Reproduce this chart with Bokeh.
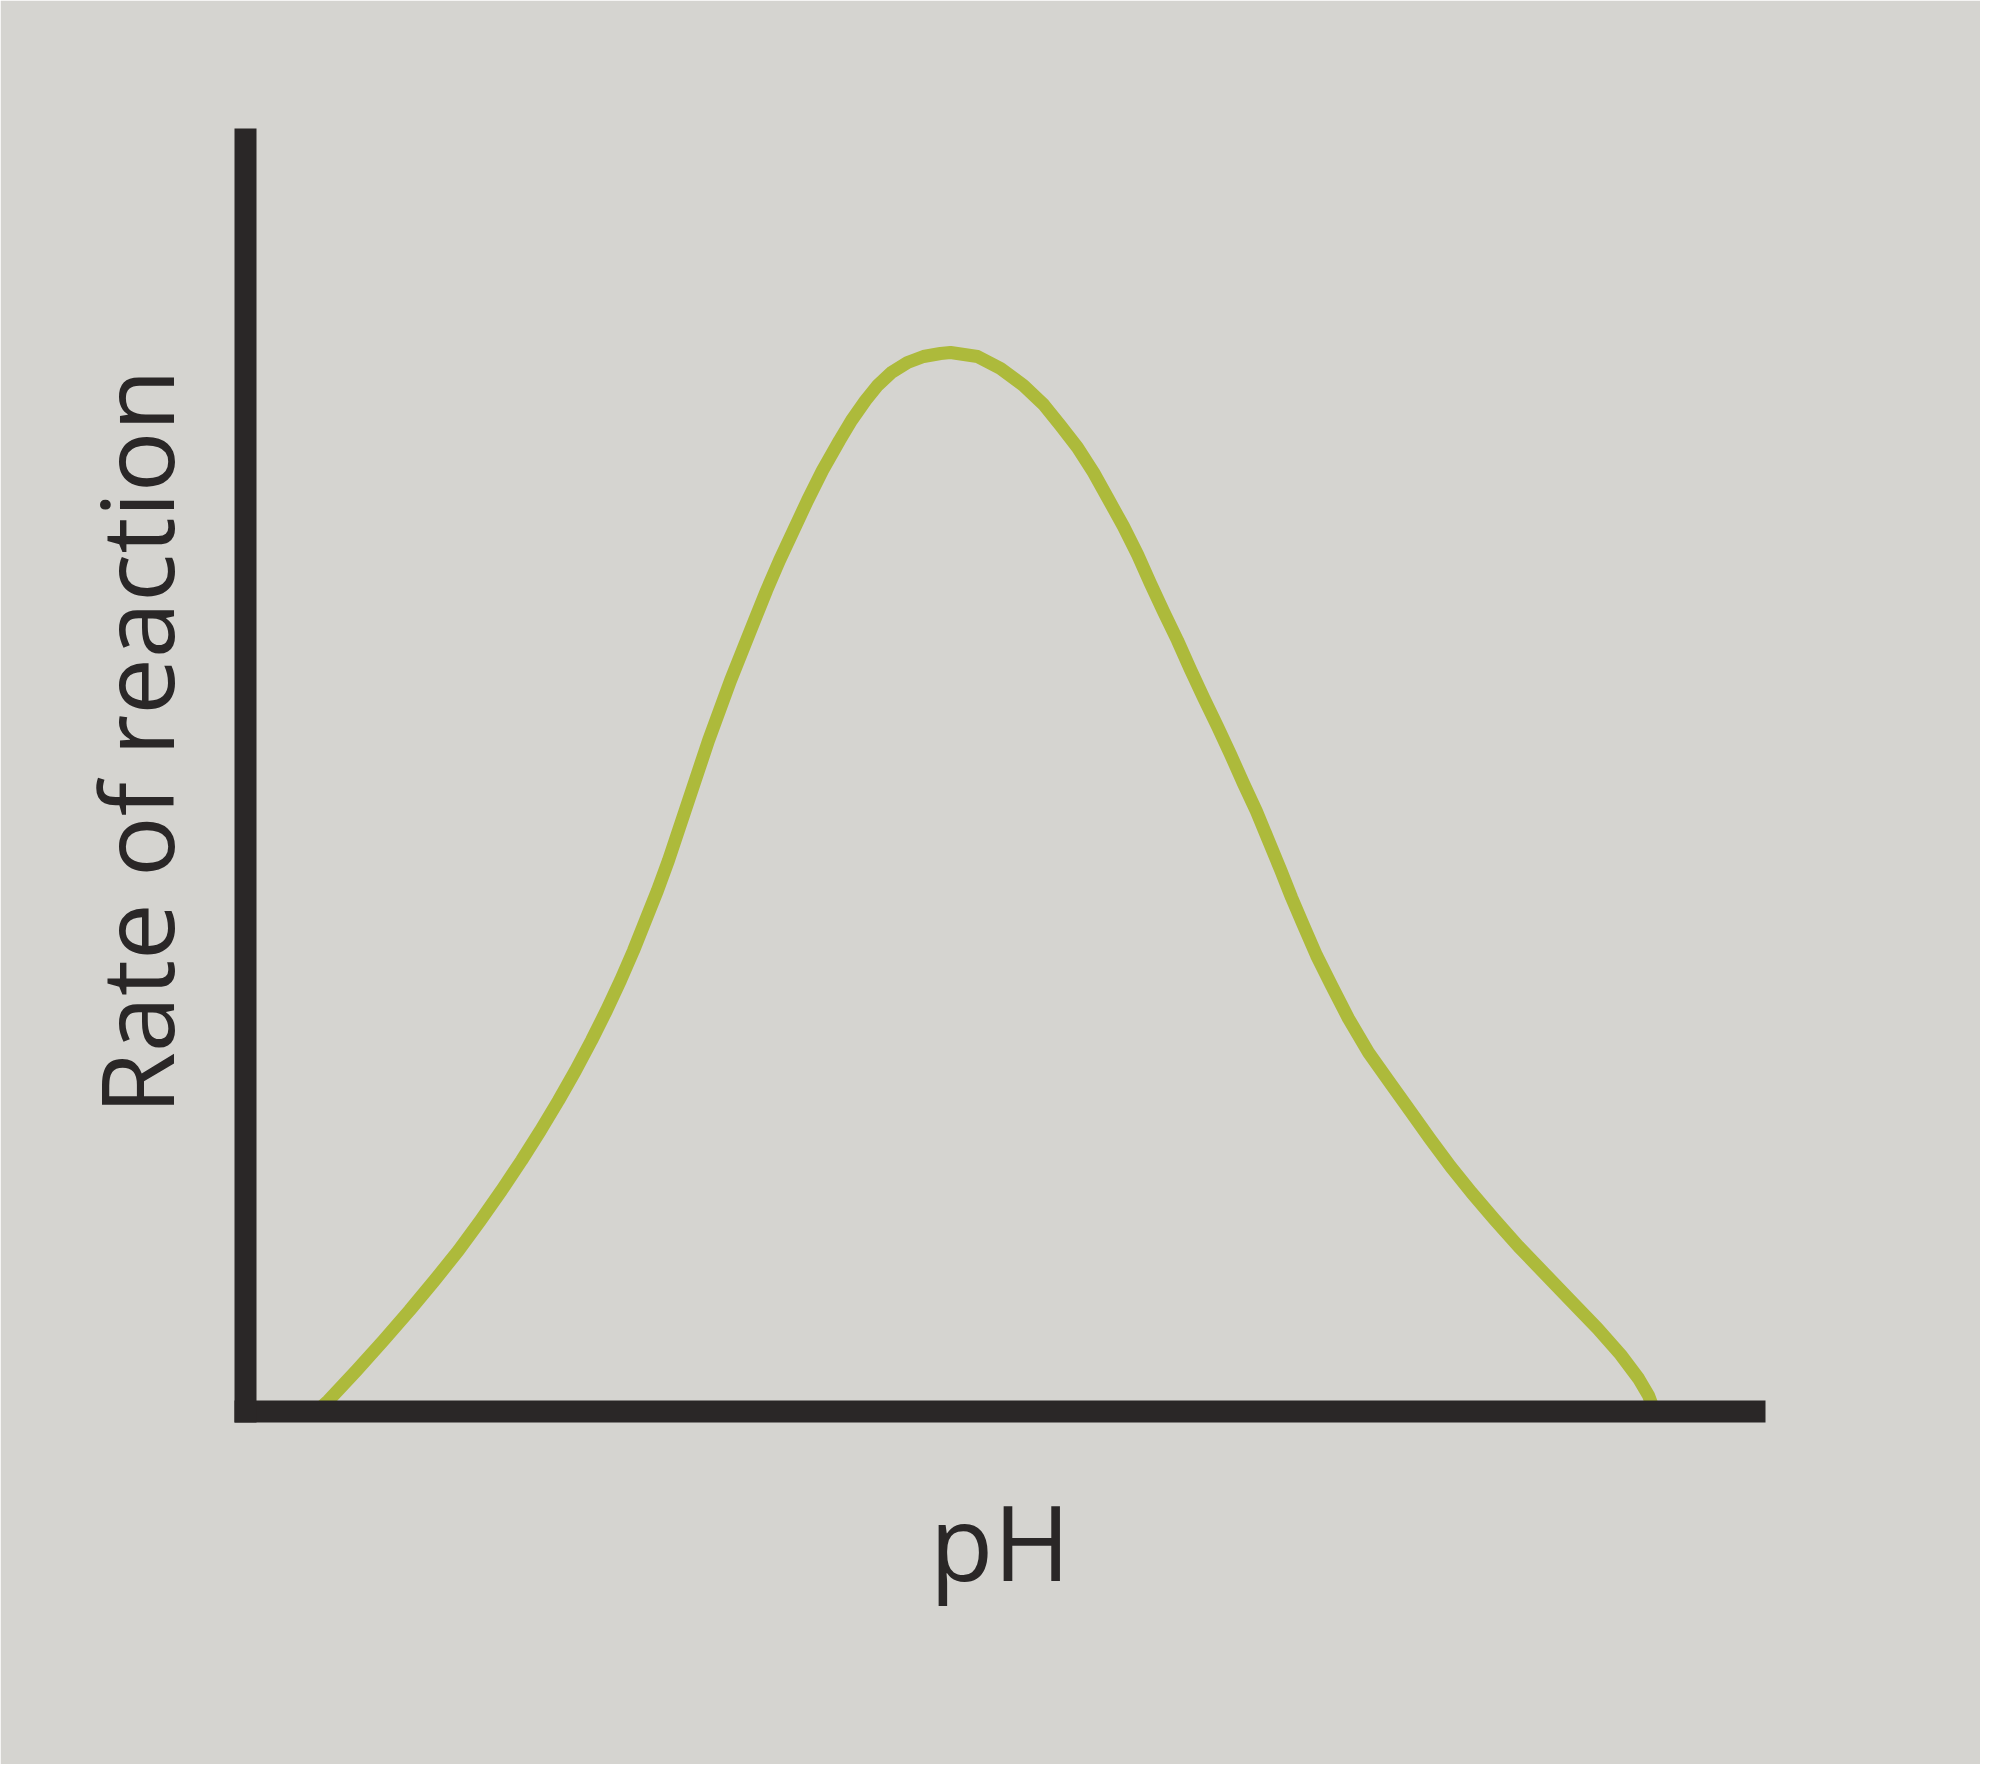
from bokeh.plotting import figure
from bokeh.models import Range1d, FixedTicker, Title
from bokeh.embed import file_html
from bokeh.resources import INLINE

# Data (arbitrary units: pH along x, rate of reaction along y)
ph = [0.659, 0.770, 1.030, 1.280, 1.522, 1.753, 1.976, 2.180, 2.375, 2.561,
      2.737, 2.904, 3.062, 3.210, 3.349, 3.479, 3.600, 3.711, 3.822, 3.924,
      4.017, 4.110, 4.203, 4.296, 4.398, 4.500, 4.611, 4.722, 4.834, 4.954,
      5.084, 5.214, 5.353, 5.511, 5.622, 5.752, 5.864, 5.993, 6.142, 6.290,
      6.448, 6.541,
      6.791, 7.005, 7.218, 7.404, 7.561, 7.719, 7.868, 7.997, 8.146, 8.276,
      8.396, 8.517, 8.647, 8.767, 8.888, 9.018, 9.139, 9.259, 9.380, 9.491,
      9.602, 9.705, 9.816, 9.937, 10.076, 10.233, 10.419, 10.623, 10.809,
      10.994, 11.180, 11.374, 11.588, 11.811, 12.052, 12.293, 12.544, 12.757,
      12.924, 13.017, 13.072]
rate = [0.0, 0.865, 3.223, 5.582, 7.940, 10.299, 12.657, 15.016, 17.374, 19.733,
        22.091, 24.450, 26.808, 29.167, 31.525, 33.884, 36.242, 38.601, 40.959, 43.318,
        45.676, 48.035, 50.393, 52.752, 55.110, 57.469, 59.827, 62.186, 64.544, 66.903,
        69.261, 71.619, 73.978, 76.336, 77.909, 79.481, 80.660, 81.682, 82.469, 82.940,
        83.176, 83.255,
        82.940, 81.997, 80.660, 79.167, 77.515, 75.786, 73.820, 71.855, 69.575, 67.374,
        65.094, 62.893, 60.613, 58.333, 56.132, 53.852, 51.651, 49.371, 47.170, 44.890,
        42.610, 40.409, 38.208, 35.849, 33.491, 30.896, 28.223, 25.786, 23.585,
        21.384, 19.261, 17.217, 15.094, 12.972, 10.849, 8.726, 6.525, 4.481,
        2.594, 1.258, 0.0]

x_label = "pH"
y_label = "Rate of reaction"

PAPER = "#d5d4d0"
INK = "#2a2727"
CURVE = "#adba3b"
FONT = "Open Sans"

p = figure(width=1980, height=1764, output_backend="svg", toolbar_location=None,
           x_range=Range1d(0, 14), y_range=Range1d(0, 100),
           min_border_left=245, min_border_right=226,
           min_border_top=139, min_border_bottom=353,
           background_fill_color=PAPER, border_fill_color=PAPER,
           outline_line_color=PAPER, outline_line_width=3)
p.grid.visible = False

for ax in (p.xaxis[0], p.yaxis[0]):
    ax.ticker = FixedTicker(ticks=[])
    ax.axis_line_width = 22
    ax.axis_line_color = INK
    ax.axis_line_cap = "square"
    ax.major_tick_line_color = None
    ax.minor_tick_line_color = None
    ax.major_label_text_font_size = "0px"

xa = p.xaxis[0]
xa.axis_label = x_label
xa.axis_label_text_font = FONT
xa.axis_label_text_font_size = "104px"
xa.axis_label_text_font_style = "normal"
xa.axis_label_text_color = INK
xa.axis_label_standoff = 58

# y-axis title, placed on the left side of the plot, starting above the foot of the axis
ytitle = Title(text=y_label, align="left", offset=297, standoff=83,
               text_font=FONT, text_font_size="101px", text_font_style="normal",
               text_color=INK)
p.add_layout(ytitle, "left")

p.line(ph, rate, line_width=13, line_color=CURVE, line_cap="round", line_join="round")

open("out.html", "w").write(file_html(p, INLINE))
